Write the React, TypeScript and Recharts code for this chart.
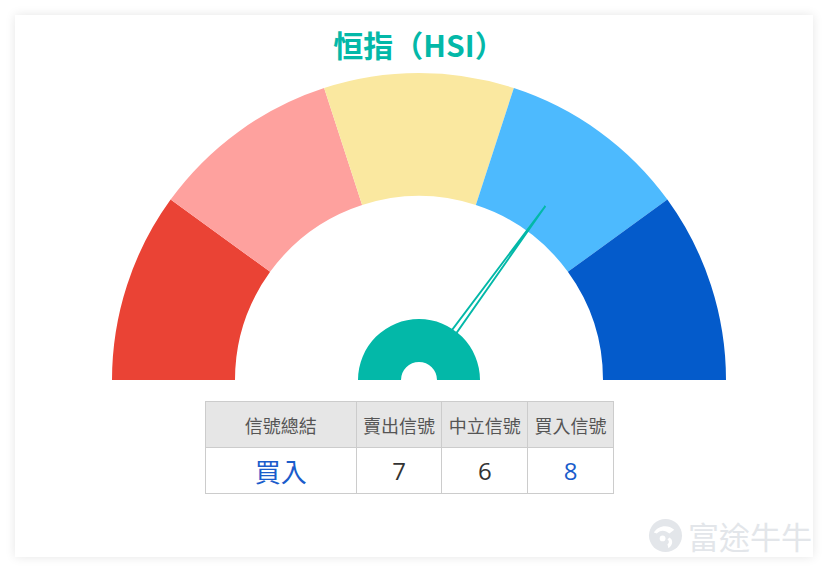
import { PieChart, Pie, Cell, Customized } from 'recharts'

const SEGMENTS = ['強烈賣出', '賣出', '中立', '買入', '強烈買入']
const SEGMENT_VALUES = [1, 1, 1, 1, 1]
const SEGMENT_COLORS = ['#ea4335', '#fea19e', '#fae8a0', '#4dbafe', '#045bcb']
const NEEDLE_VALUE = 0.70

const TABLE_HEADERS = ['信號總結', '賣出信號', '中立信號', '買入信號']
const SUMMARY = '買入'
const SIGNAL_COUNTS = [7, 6, 8]
const COUNT_COLORS = ['#333333', '#333333', '#1a5ccb']

const TEAL = '#03b8a8'
const FONT = '"Noto Sans CJK TC", "Noto Sans", sans-serif'

const CX = 404
const CY = 365
const NO_MARGIN = { top: 0, right: 0, bottom: 0, left: 0 }

const gaugeData = SEGMENTS.map((name, i) => ({ name, value: SEGMENT_VALUES[i] }))
const hubData = [{ name: 'hub', value: 1 }]

function Needle() {
  const angle = Math.PI * (1 - NEEDLE_VALUE)
  const len = 215
  const start = 30
  const half = 3.2
  const cos = Math.cos(angle)
  const sin = Math.sin(angle)
  const bx = CX + start * cos
  const by = CY - start * sin
  const tx = CX + len * cos
  const ty = CY - len * sin
  const px = sin * half
  const py = cos * half
  const points = `${bx - px},${by - py} ${tx},${ty} ${bx + px},${by + py}`
  return (
    <polygon
      points={points}
      fill="#ffffff"
      stroke={TEAL}
      strokeWidth={1.9}
      strokeLinejoin="miter"
    />
  )
}

function Watermark() {
  return (
    <div
      style={{
        position: 'absolute',
        left: 648,
        top: 518,
        display: 'flex',
        alignItems: 'center',
        gap: 5,
        color: '#e3e6ea',
        fontFamily: FONT,
        fontSize: 31,
        lineHeight: 1,
      }}
    >
      <svg width={35} height={35} viewBox="0 0 36 36">
        <circle cx={18} cy={18} r={17} fill="#e3e6ea" />
        <path d="M6 15 C10 8, 20 6, 27 12 L22 16 C18 12, 12 12, 9 16 Z" fill="#ffffff" />
        <circle cx={15} cy={21} r={3} fill="#ffffff" />
        <path d="M22 20 C26 22, 26 28, 21 31 L20 27 C22 26, 22 23, 20 22 Z" fill="#ffffff" />
      </svg>
      <span>富途牛牛</span>
    </div>
  )
}

export default function App() {
  const cell = {
    border: '1px solid #cccccc',
    textAlign: 'center' as const,
    padding: 0,
    whiteSpace: 'nowrap' as const,
  }
  return (
    <div style={{ position: 'absolute', left: 0, top: 0, width: 828, height: 573, background: '#ffffff' }}>
      <div
        style={{
          position: 'absolute',
          left: 15,
          top: 15,
          width: 798,
          height: 542,
          background: '#ffffff',
          boxShadow: '0 0 10px rgba(0,0,0,0.10)',
        }}
      >
        <div
          style={{
            position: 'absolute',
            left: 0,
            top: 9,
            width: 808,
            textAlign: 'center',
            color: TEAL,
            fontFamily: FONT,
            fontWeight: 700,
            fontSize: 30,
            lineHeight: '40px',
          }}
        >
          恒指（HSI）
        </div>
        <div style={{ position: 'absolute', left: 0, top: 0 }}>
          <PieChart width={798} height={400} margin={NO_MARGIN}>
            <Pie
              data={gaugeData}
              dataKey="value"
              nameKey="name"
              cx={CX}
              cy={CY}
              startAngle={180}
              endAngle={0}
              innerRadius={184}
              outerRadius={307}
              stroke="none"
              isAnimationActive={false}
            >
              {gaugeData.map((d, i) => (
                <Cell key={d.name} fill={SEGMENT_COLORS[i]} />
              ))}
            </Pie>
          </PieChart>
        </div>
        <div style={{ position: 'absolute', left: 0, top: 0 }}>
          <PieChart width={798} height={400} margin={NO_MARGIN}>
            <Customized component={<Needle />} />
            <Pie
              data={hubData}
              dataKey="value"
              cx={CX}
              cy={CY}
              startAngle={180}
              endAngle={0}
              innerRadius={18}
              outerRadius={61}
              stroke="none"
              fill={TEAL}
              isAnimationActive={false}
            />
          </PieChart>
        </div>
        <table
          style={{
            position: 'absolute',
            left: 190,
            top: 386,
            width: 409,
            borderCollapse: 'collapse',
            fontFamily: FONT,
          }}
        >
          <tbody>
            <tr style={{ height: 46, background: '#e6e6e6', color: '#555555', fontSize: 18 }}>
              {TABLE_HEADERS.map((h, i) => (
                <td key={h} style={{ ...cell, width: i === 0 ? 151 : 85 }}>
                  {h}
                </td>
              ))}
            </tr>
            <tr style={{ height: 46, background: '#ffffff', fontSize: 24 }}>
              <td style={{ ...cell, color: '#1a5ccb', fontSize: 26 }}>{SUMMARY}</td>
              {SIGNAL_COUNTS.map((c, i) => (
                <td key={i} style={{ ...cell, color: COUNT_COLORS[i], fontFamily: '"Open Sans", sans-serif' }}>
                  {c}
                </td>
              ))}
            </tr>
          </tbody>
        </table>
      </div>
      <Watermark />
    </div>
  )
}
